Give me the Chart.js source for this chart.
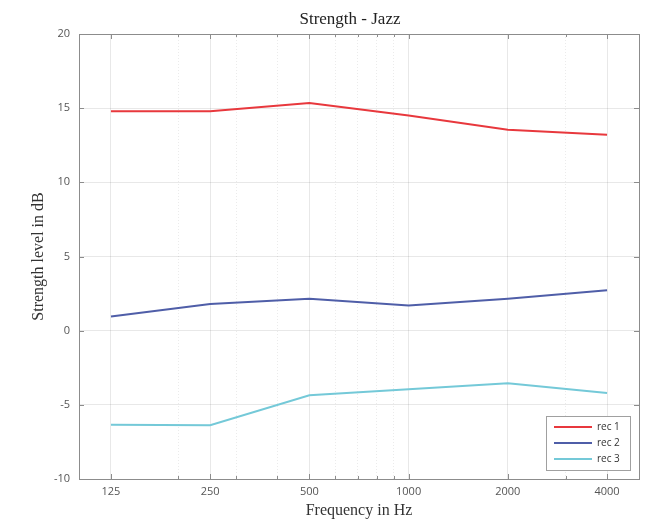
<!DOCTYPE html>
<html>
<head>
<meta charset="utf-8">
<script src="https://cdn.jsdelivr.net/npm/chart.js@4"></script>
<style>
  html, body { margin: 0; padding: 0; background: #fff; }
  #wrap { width: 658px; height: 520px; }
</style>
</head>
<body>
<div id="wrap"><canvas id="chart"></canvas></div>
<script>
// data
const freqs = [125, 250, 500, 1000, 2000, 4000];
const rec1 = [14.8, 14.8, 15.35, 14.5, 13.55, 13.2];
const rec2 = [0.95, 1.8, 2.15, 1.7, 2.15, 2.72];
const rec3 = [-6.35, -6.38, -4.35, -3.95, -3.55, -4.2];
const seriesNames = ['rec 1', 'rec 2', 'rec 3'];
const seriesColors = ['#e8383d', '#4f5ea8', '#74c9d8'];

const majorTicks = freqs;
const minorTicks = [200, 300, 400, 600, 700, 800, 900, 3000, 5000];
const yTicks = [-10, -5, 0, 5, 10, 15, 20];
const chartTitle = 'Strength - Jazz';

const allX = [...new Set([...majorTicks, ...minorTicks])].sort((a, b) => a - b);

function toPoints(vals) {
    return freqs.map((f, i) => ({ x: f, y: vals[i] }));
}

// title over the axes box (MATLAB centres it on the axes, not the figure)
const titlePlugin = {
    id: 'axesTitle',
    afterDraw(chart) {
        const { ctx, chartArea: a } = chart;
        ctx.save();
        ctx.fillStyle = '#222';
        ctx.font = '17px "Liberation Serif", serif';
        ctx.textAlign = 'center';
        ctx.textBaseline = 'middle';
        ctx.fillText(chartTitle, (a.left + a.right) / 2 - 9, 20);
        ctx.restore();
    }
};

// frame + inward tick marks
const framePlugin = {
    id: 'frame',
    afterDraw(chart) {
        const { ctx, chartArea: a, scales } = chart;
        ctx.save();
        ctx.strokeStyle = '#8c8c8c';
        ctx.lineWidth = 1;
        ctx.strokeRect(Math.round(a.left) + 0.5, Math.round(a.top) + 0.5,
            Math.round(a.right - a.left), Math.round(a.bottom - a.top));
        ctx.beginPath();
        allX.forEach(v => {
            const x = Math.round(scales.x.getPixelForValue(v)) + 0.5;
            const len = majorTicks.includes(v) ? 5 : 3;
            ctx.moveTo(x, a.bottom); ctx.lineTo(x, a.bottom - len);
            ctx.moveTo(x, a.top); ctx.lineTo(x, a.top + len);
        });
        yTicks.forEach(v => {
            const y = Math.round(scales.y.getPixelForValue(v)) + 0.5;
            ctx.moveTo(a.left, y); ctx.lineTo(a.left + 5, y);
            ctx.moveTo(a.right, y); ctx.lineTo(a.right - 5, y);
        });
        ctx.stroke();
        ctx.restore();
    }
};

// boxed legend in the lower right corner
const legendPlugin = {
    id: 'boxLegend',
    afterDraw(chart) {
        const { ctx, chartArea: a } = chart;
        const w = 84, h = 54;
        const left = a.right - 9 - w, top = a.bottom - 9 - h;
        ctx.save();
        ctx.fillStyle = '#fff';
        ctx.fillRect(left, top, w, h);
        ctx.strokeStyle = '#a0a0a0';
        ctx.lineWidth = 1;
        ctx.strokeRect(left + 0.5, top + 0.5, w, h);
        ctx.font = '10px "Open Sans", sans-serif';
        ctx.textBaseline = 'middle';
        chart.data.datasets.forEach((ds, i) => {
            const y = top + 11 + i * 16;
            ctx.strokeStyle = ds.borderColor;
            ctx.lineWidth = 2;
            ctx.beginPath();
            ctx.moveTo(left + 8, y);
            ctx.lineTo(left + 46, y);
            ctx.stroke();
            ctx.fillStyle = '#333';
            ctx.fillText(ds.label, left + 51, y);
        });
        ctx.restore();
    }
};

const ctx = document.getElementById('chart').getContext('2d');
new Chart(ctx, {
    type: 'line',
    data: {
        datasets: [rec1, rec2, rec3].map((vals, i) => ({
            label: seriesNames[i],
            data: toPoints(vals),
            borderColor: seriesColors[i],
            backgroundColor: seriesColors[i],
            borderWidth: 2,
            pointRadius: 0,
            tension: 0,
            fill: false
        }))
    },
    options: {
        responsive: true,
        maintainAspectRatio: false,
        animation: false,
        layout: { padding: { left: 0, right: 19, top: 34, bottom: 0 } },
        plugins: {
            legend: { display: false },
            tooltip: { enabled: false },
            title: { display: false }
        },
        scales: {
            x: {
                type: 'logarithmic',
                min: 100,
                max: 5000,
                afterBuildTicks: (scale) => {
                    scale.ticks = allX.map(v => ({ value: v, major: majorTicks.includes(v) }));
                },
                afterFit: (scale) => { scale.height = 41; },
                ticks: {
                    autoSkip: false,
                    maxRotation: 0,
                    padding: 6,
                    color: '#555',
                    font: { family: '"Open Sans", sans-serif', size: 11 },
                    callback: (v) => majorTicks.includes(v) ? String(v) : ''
                },
                grid: {
                    drawTicks: false,
                    color: (c) => c.tick && majorTicks.includes(c.tick.value) ? 'rgba(0,0,0,0.09)' : 'rgba(0,0,0,0.08)'
                },
                border: {
                    display: false,
                    dash: (c) => c.tick && majorTicks.includes(c.tick.value) ? [] : [1, 2]
                },
                title: {
                    display: true,
                    text: 'Frequency in Hz',
                    color: '#333',
                    font: { family: '"Liberation Serif", serif', size: 16 },
                    padding: { top: 0, bottom: 0 }
                }
            },
            y: {
                min: -10,
                max: 20,
                afterBuildTicks: (scale) => {
                    scale.ticks = yTicks.map(v => ({ value: v }));
                },
                afterFit: (scale) => { scale.width = 79; },
                ticks: {
                    padding: 9,
                    color: '#555',
                    font: { family: '"Open Sans", sans-serif', size: 11 }
                },
                grid: { drawTicks: false, color: 'rgba(0,0,0,0.09)' },
                border: { display: false },
                title: {
                    display: true,
                    text: 'Strength level in dB',
                    color: '#333',
                    font: { family: '"Liberation Serif", serif', size: 16 },
                    padding: { top: 29, bottom: 0 }
                }
            }
        }
    },
    plugins: [titlePlugin, framePlugin, legendPlugin]
});
</script>
</body>
</html>
